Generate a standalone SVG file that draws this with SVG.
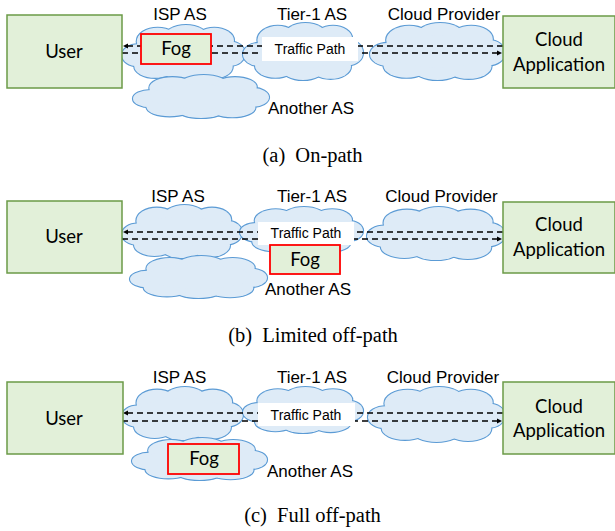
<svg xmlns="http://www.w3.org/2000/svg" xmlns:xlink="http://www.w3.org/1999/xlink" width="615" height="531" viewBox="0 0 615 531">
<style>
.cs{fill:#DEEBF7;stroke:#5B9BD5;stroke-width:2.2}
.cf{fill:#DEEBF7;stroke:none}
.box{fill:#E2F0D9;stroke:#6B9A47;stroke-width:1.5}
.fog{fill:#E2F0D9;stroke:#FF0000;stroke-width:1.8}
.tp{fill:#FFFFFF;stroke:none}
.lbl{font-family:"Liberation Sans",Arial,sans-serif;font-size:17px;fill:#000}
.tpt{font-family:"Liberation Sans",Arial,sans-serif;font-size:14px;fill:#000;text-anchor:middle}
.bt{font-family:Lato,"Open Sans",sans-serif;font-size:18.5px;fill:#000;text-anchor:middle}
.cap{font-family:"Liberation Serif","Times New Roman",serif;font-size:20.5px;fill:#000;text-anchor:middle}
.mid{text-anchor:middle}
.dl{fill:none;stroke:#000;stroke-width:1.5;stroke-dasharray:6,4}
</style>
<defs>
<g id="cl">
<ellipse cx="13" cy="55" rx="13" ry="20" vector-effect="non-scaling-stroke"/>
<ellipse cx="29" cy="30" rx="17" ry="25" vector-effect="non-scaling-stroke"/>
<ellipse cx="52" cy="24" rx="18" ry="24" vector-effect="non-scaling-stroke"/>
<ellipse cx="75" cy="28" rx="16" ry="23" vector-effect="non-scaling-stroke"/>
<ellipse cx="88" cy="52" rx="12" ry="22" vector-effect="non-scaling-stroke"/>
<ellipse cx="73" cy="76" rx="17" ry="22" vector-effect="non-scaling-stroke"/>
<ellipse cx="50" cy="79" rx="18" ry="21" vector-effect="non-scaling-stroke"/>
<ellipse cx="27" cy="75" rx="17" ry="21" vector-effect="non-scaling-stroke"/>
<ellipse cx="50" cy="50" rx="38" ry="28" vector-effect="non-scaling-stroke"/>
</g>
<marker id="ah" markerWidth="6" markerHeight="6" refX="5" refY="3" orient="auto" markerUnits="userSpaceOnUse">
<path d="M0,0.5 L5,3 L0,5.5 z" fill="#000"/>
</marker>
</defs>

<!-- Panel (a) -->
<g id="a-isp"><use href="#cl" class="cs" transform="translate(122,25) scale(1.23,0.55)"/><use href="#cl" class="cf" transform="translate(122,25) scale(1.23,0.55)"/><text class="lbl mid" x="180" y="20">ISP AS</text></g>
<g id="a-another"><use href="#cl" class="cs" transform="translate(133,75) scale(1.36,0.43)"/><use href="#cl" class="cf" transform="translate(133,75) scale(1.36,0.43)"/><text class="lbl" x="268" y="114">Another AS</text></g>
<g id="a-tier1"><use href="#cl" class="cs" transform="translate(243,23) scale(1.20,0.57)"/><use href="#cl" class="cf" transform="translate(243,23) scale(1.20,0.57)"/><text class="lbl mid" x="312" y="20">Tier-1 AS</text></g>
<g id="a-cp"><use href="#cl" class="cs" transform="translate(370,23) scale(1.35,0.57)"/><use href="#cl" class="cf" transform="translate(370,23) scale(1.35,0.57)"/><text class="lbl mid" x="444" y="20">Cloud Provider</text></g>
<g id="a-connectors">
<path class="dl" d="M503,46 L123,46" marker-end="url(#ah)"/>
<path class="dl" d="M122,53 L502,53" marker-end="url(#ah)"/>
</g>
<g id="a-user"><rect class="box" x="7" y="15" width="115" height="73"/><text class="bt" x="64" y="58">User</text></g>
<g id="a-app"><rect class="box" x="503" y="16" width="112" height="72"/><text class="bt" x="559" y="46">Cloud</text><text class="bt" x="559" y="70.5">Application</text></g>
<g id="a-fog"><rect class="fog" x="141" y="34" width="70" height="30"/><text class="bt" x="176" y="55">Fog</text></g>
<g id="a-path"><rect class="tp" x="262" y="37" width="96" height="24"/><text class="tpt" x="310" y="54">Traffic Path</text></g>
<text class="cap" x="312.5" y="162">(a)<tspan dx="5"> On-path</tspan></text>

<!-- Panel (b) -->
<g id="b-isp"><use href="#cl" class="cs" transform="translate(122,205) scale(1.20,0.53)"/><use href="#cl" class="cf" transform="translate(122,205) scale(1.20,0.53)"/><text class="lbl mid" x="178" y="202">ISP AS</text></g>
<g id="b-another"><use href="#cl" class="cs" transform="translate(130,256) scale(1.37,0.42)"/><use href="#cl" class="cf" transform="translate(130,256) scale(1.37,0.42)"/><text class="lbl" x="265" y="295">Another AS</text></g>
<g id="b-tier1"><use href="#cl" class="cs" transform="translate(240,207) scale(1.23,0.46)"/><use href="#cl" class="cf" transform="translate(240,207) scale(1.23,0.46)"/><text class="lbl mid" x="312" y="202">Tier-1 AS</text></g>
<g id="b-cp"><use href="#cl" class="cs" transform="translate(367,207) scale(1.38,0.53)"/><use href="#cl" class="cf" transform="translate(367,207) scale(1.38,0.53)"/><text class="lbl mid" x="441.5" y="202">Cloud Provider</text></g>
<g id="b-connectors">
<path class="dl" d="M503,232 L123,232" marker-end="url(#ah)"/>
<path class="dl" d="M122,239 L502,239" marker-end="url(#ah)"/>
</g>
<g id="b-user"><rect class="box" x="7" y="201" width="115" height="72"/><text class="bt" x="64" y="243">User</text></g>
<g id="b-app"><rect class="box" x="503" y="202" width="112" height="71"/><text class="bt" x="559" y="231">Cloud</text><text class="bt" x="559" y="256">Application</text></g>
<g id="b-path"><rect class="tp" x="258" y="222" width="96" height="23"/><text class="tpt" x="306" y="238">Traffic Path</text></g>
<g id="b-fog"><rect class="fog" x="270" y="245" width="70" height="29"/><text class="bt" x="305" y="266">Fog</text></g>
<text class="cap" x="313" y="342">(b)<tspan dx="5"> Limited off-path</tspan></text>

<!-- Panel (c) -->
<g id="c-isp"><use href="#cl" class="cs" transform="translate(122,387) scale(1.21,0.53)"/><use href="#cl" class="cf" transform="translate(122,387) scale(1.21,0.53)"/><text class="lbl mid" x="179.5" y="383">ISP AS</text></g>
<g id="c-another"><use href="#cl" class="cs" transform="translate(132,438) scale(1.35,0.42)"/><use href="#cl" class="cf" transform="translate(132,438) scale(1.35,0.42)"/><text class="lbl" x="267" y="477">Another AS</text></g>
<g id="c-tier1"><use href="#cl" class="cs" transform="translate(243,387) scale(1.20,0.46)"/><use href="#cl" class="cf" transform="translate(243,387) scale(1.20,0.46)"/><text class="lbl mid" x="312" y="383">Tier-1 AS</text></g>
<g id="c-cp"><use href="#cl" class="cs" transform="translate(368,387) scale(1.37,0.55)"/><use href="#cl" class="cf" transform="translate(368,387) scale(1.37,0.55)"/><text class="lbl mid" x="443" y="383">Cloud Provider</text></g>
<g id="c-connectors">
<path class="dl" d="M503,413 L123,413" marker-end="url(#ah)"/>
<path class="dl" d="M122,421 L502,421" marker-end="url(#ah)"/>
</g>
<g id="c-user"><rect class="box" x="7" y="382" width="116" height="72"/><text class="bt" x="64" y="425">User</text></g>
<g id="c-app"><rect class="box" x="503" y="382" width="112" height="72"/><text class="bt" x="559" y="412.5">Cloud</text><text class="bt" x="559" y="437">Application</text></g>
<g id="c-path"><rect class="tp" x="258" y="403" width="97" height="23"/><text class="tpt" x="306" y="420">Traffic Path</text></g>
<g id="c-fog"><rect class="fog" x="168" y="444" width="71" height="30"/><text class="bt" x="204" y="465">Fog</text></g>
<text class="cap" x="312.5" y="522">(c)<tspan dx="5"> Full off-path</tspan></text>
</svg>
